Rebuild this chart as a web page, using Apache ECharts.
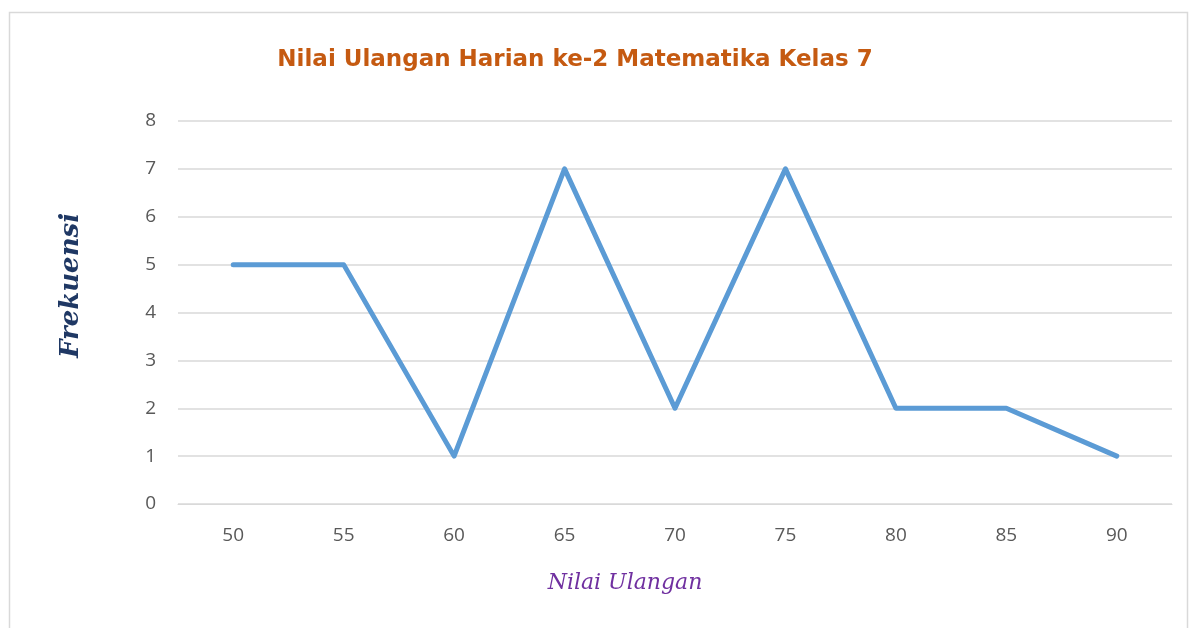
<!DOCTYPE html>
<html>
<head>
<meta charset="utf-8">
<script src="https://cdn.jsdelivr.net/npm/echarts@6/dist/echarts.min.js"></script>
<style>
  html, body { margin: 0; padding: 0; background: #fff; }
  #chart { width: 1189px; height: 628px; }
</style>
</head>
<body>
<div id="chart"></div>
<script>
var nilai = ['50', '55', '60', '65', '70', '75', '80', '85', '90'];
var frekuensi = [5, 5, 1, 7, 2, 7, 2, 2, 1];

var myChart = echarts.init(document.getElementById('chart'));

var option = {
    title: {
        text: 'Nilai Ulangan Harian ke-2 Matematika Kelas 7',
        left: 570,
        top: 44,
        textAlign: 'center',
        textStyle: {
            color: '#C55A11',
            fontFamily: 'DejaVu Sans',
            fontWeight: 'bold',
            fontSize: 23
        }
    },
    graphic: [{
        type: 'rect',
        shape: { x: 9.5, y: 12.5, width: 1178, height: 630 },
        style: { fill: 'none', stroke: '#D9D9D9', lineWidth: 1.5 },
        silent: true
    }],
    grid: {
        left: 178,
        right: 17,
        top: 121,
        bottom: 124
    },
    xAxis: {
        type: 'category',
        data: nilai,
        boundaryGap: true,
        name: 'Nilai Ulangan',
        nameLocation: 'middle',
        nameGap: 68,
        nameTextStyle: {
            color: '#7030A0',
            fontFamily: 'DejaVu Serif',
            fontStyle: 'italic',
            fontSize: 22,
            padding: [0, 100, 0, 0]
        },
        axisLine: { lineStyle: { color: '#D9D9D9' } },
        axisTick: { show: false },
        axisLabel: {
            color: '#595959',
            fontFamily: 'Open Sans',
            fontSize: 19,
            margin: 22
        }
    },
    yAxis: {
        type: 'value',
        min: 0,
        max: 8,
        interval: 1,
        name: 'Frekuensi',
        nameLocation: 'middle',
        nameGap: 94,
        nameRotate: 90,
        nameTextStyle: {
            color: '#1F3864',
            fontFamily: 'DejaVu Serif',
            fontStyle: 'italic',
            fontWeight: 'bold',
            fontSize: 26,
            padding: [0, 0, 0, 54]
        },
        axisLine: { show: false },
        axisTick: { show: false },
        axisLabel: {
            color: '#595959',
            fontFamily: 'Open Sans',
            fontSize: 19,
            margin: 22
        },
        splitLine: { lineStyle: { color: '#D9D9D9', width: 1.5 } }
    },
    series: [{
        type: 'line',
        data: frekuensi,
        symbol: 'none',
        lineStyle: { color: '#5B9BD5', width: 5, cap: 'round', join: 'round' }
    }]
};

myChart.setOption(option);
</script>
</body>
</html>
